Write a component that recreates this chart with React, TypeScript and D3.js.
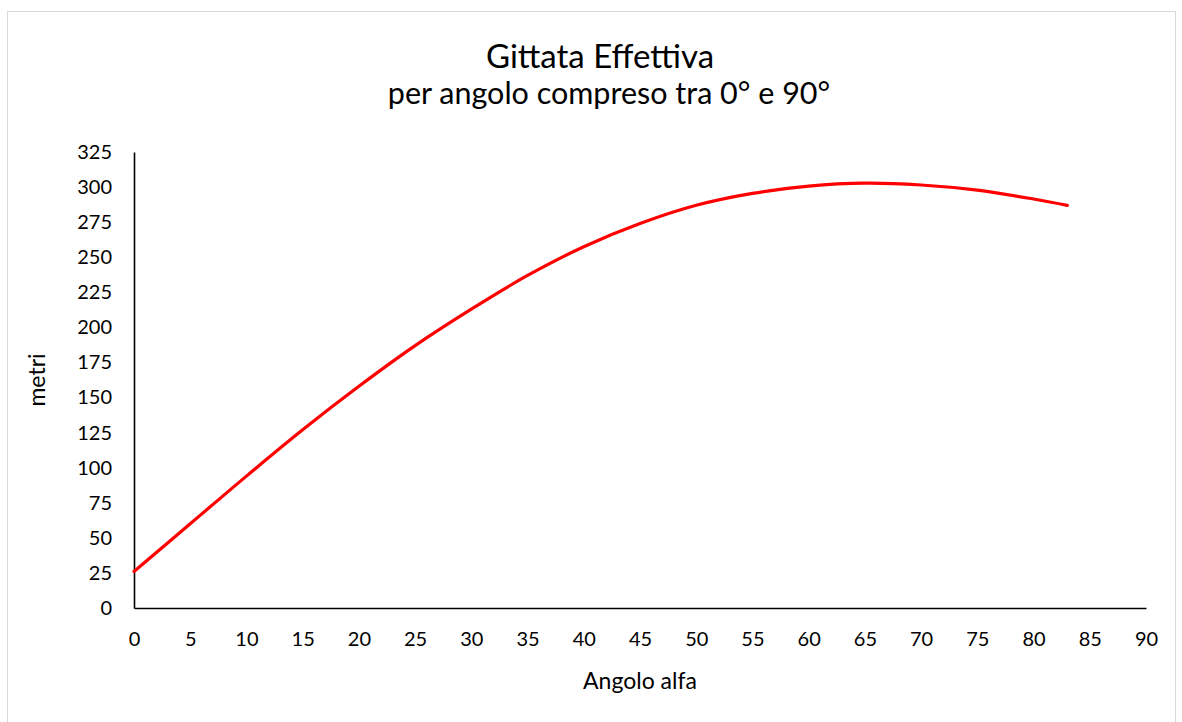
import { useEffect, useRef } from 'react';
import * as d3 from 'd3';

// angolo (gradi) e gittata (metri)
const angoli = [0, 5, 10, 15, 20, 25, 30, 35, 40, 45, 50, 55, 60, 65, 70, 75, 80, 83];
const gittata = [26, 60, 94, 127, 158, 187, 213, 237, 257.5, 274, 287, 295.5, 300.7, 302.8, 301.5, 297.8, 291.5, 287];

const xTicks = d3.range(0, 91, 5);
const yTicks = d3.range(0, 326, 25);

const title = 'Gittata Effettiva';
const subtitle = 'per angolo compreso tra 0° e 90°';
const xLabel = 'Angolo alfa';
const yLabel = 'metri';

export default function App() {
  const svgRef = useRef<SVGSVGElement>(null);

  useEffect(() => {
    if (!svgRef.current) return;

    const svg = d3.select(svgRef.current);
    svg.selectAll('*').remove();

    const font = 'Lato, "Open Sans", sans-serif';
    const left = 134;
    const right = 1146;
    const top = 152;
    const bottom = 608;

    const x = d3.scaleLinear().domain([0, 90]).range([left, right]);
    const y = d3.scaleLinear().domain([0, 325]).range([bottom, top]);

    svg.append('rect')
      .attr('x', 7.5)
      .attr('y', 11.5)
      .attr('width', 1168)
      .attr('height', 720)
      .attr('fill', '#fff')
      .attr('stroke', '#d9d9d9')
      .attr('stroke-width', 1);

    svg.append('text')
      .attr('x', 600)
      .attr('y', 68)
      .attr('text-anchor', 'middle')
      .style('font-family', font)
      .style('font-size', '33px')
      .attr('fill', '#000')
      .text(title);

    svg.append('text')
      .attr('x', 609)
      .attr('y', 104)
      .attr('text-anchor', 'middle')
      .style('font-family', font)
      .style('font-size', '30.5px')
      .attr('fill', '#000')
      .text(subtitle);

    const xAxis = svg.append('g')
      .attr('transform', `translate(0,${bottom})`)
      .call(d3.axisBottom(x).tickValues(xTicks).tickSize(0).tickPadding(24));
    xAxis.select('.domain').attr('stroke', '#000').attr('stroke-width', 1.6);
    xAxis.selectAll('text')
      .style('font-family', font)
      .style('font-size', '20px')
      .attr('fill', '#000');

    const yAxis = svg.append('g')
      .attr('transform', `translate(${left},0)`)
      .call(d3.axisLeft(y).tickValues(yTicks).tickSize(0).tickPadding(22));
    yAxis.select('.domain').attr('stroke', '#000').attr('stroke-width', 1.6);
    yAxis.selectAll('text')
      .style('font-family', font)
      .style('font-size', '20px')
      .attr('fill', '#000');

    svg.append('text')
      .attr('x', (left + right) / 2)
      .attr('y', 689)
      .attr('text-anchor', 'middle')
      .style('font-family', font)
      .style('font-size', '23px')
      .attr('fill', '#000')
      .text(xLabel);

    svg.append('text')
      .attr('transform', `translate(45,${(top + bottom) / 2}) rotate(-90)`)
      .attr('text-anchor', 'middle')
      .style('font-family', font)
      .style('font-size', '23px')
      .attr('fill', '#000')
      .text(yLabel);

    const points = angoli.map((a, i) => [a, gittata[i]] as [number, number]);
    const line = d3.line<[number, number]>()
      .x(d => x(d[0]))
      .y(d => y(d[1]))
      .curve(d3.curveCatmullRom.alpha(0.5));

    svg.append('path')
      .datum(points)
      .attr('fill', 'none')
      .attr('stroke', '#ff0000')
      .attr('stroke-width', 3.2)
      .attr('stroke-linecap', 'round')
      .attr('d', line);
  }, []);

  return (
    <svg
      ref={svgRef}
      width={1182}
      height={722}
      style={{ position: 'absolute', left: 0, top: 0 }}
    ></svg>
  );
}
